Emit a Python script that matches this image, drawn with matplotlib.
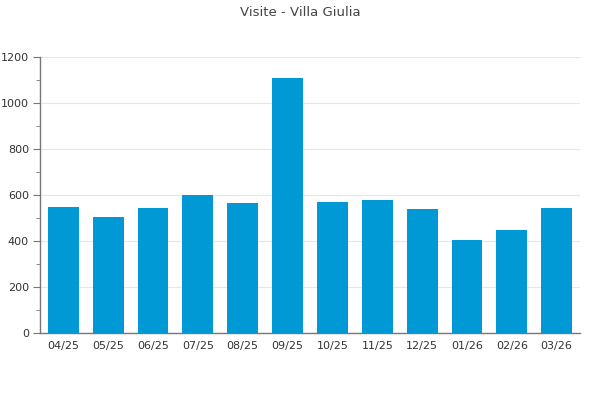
import matplotlib
matplotlib.use("Agg")
import matplotlib.pyplot as plt
from matplotlib.ticker import MultipleLocator

# Data
months = ["04/25", "05/25", "06/25", "07/25", "08/25", "09/25",
          "10/25", "11/25", "12/25", "01/26", "02/26", "03/26"]
visits = [548, 504, 543, 600, 565, 1109, 570, 578, 539, 404, 448, 543]

fig = plt.figure(figsize=(6, 4), dpi=100)
ax = fig.add_axes([40/600, 67/400, 540/600, 276/400])

x = range(len(months))
ax.bar(x, visits, width=0.69, color="#0099d6", zorder=3)

ax.set_xlim(-0.52, len(months) - 0.48)
ax.set_ylim(0, 1200)
ax.yaxis.set_major_locator(MultipleLocator(200))
ax.yaxis.set_minor_locator(MultipleLocator(100))
ax.set_xticks(list(x))
ax.set_xticklabels(months)

ax.grid(axis="y", color="#e6e6e6", linewidth=0.8, zorder=0)
for s in ["top", "right"]:
    ax.spines[s].set_visible(False)
for s in ["left", "bottom"]:
    ax.spines[s].set_color("#777777")
    ax.spines[s].set_linewidth(1.0)

ax.tick_params(axis="y", which="major", length=5, color="#777777",
               labelsize=8, labelcolor="#333333", pad=3)
ax.tick_params(axis="y", which="minor", length=3, color="#777777")
ax.tick_params(axis="x", length=0, labelsize=8, labelcolor="#333333", pad=6)

fig.text(0.5, 1 - 12/400, "Visite - Villa Giulia", ha="center", va="center",
         fontsize=9.5, color="#444444")

fig.savefig("out.png", dpi=100)
